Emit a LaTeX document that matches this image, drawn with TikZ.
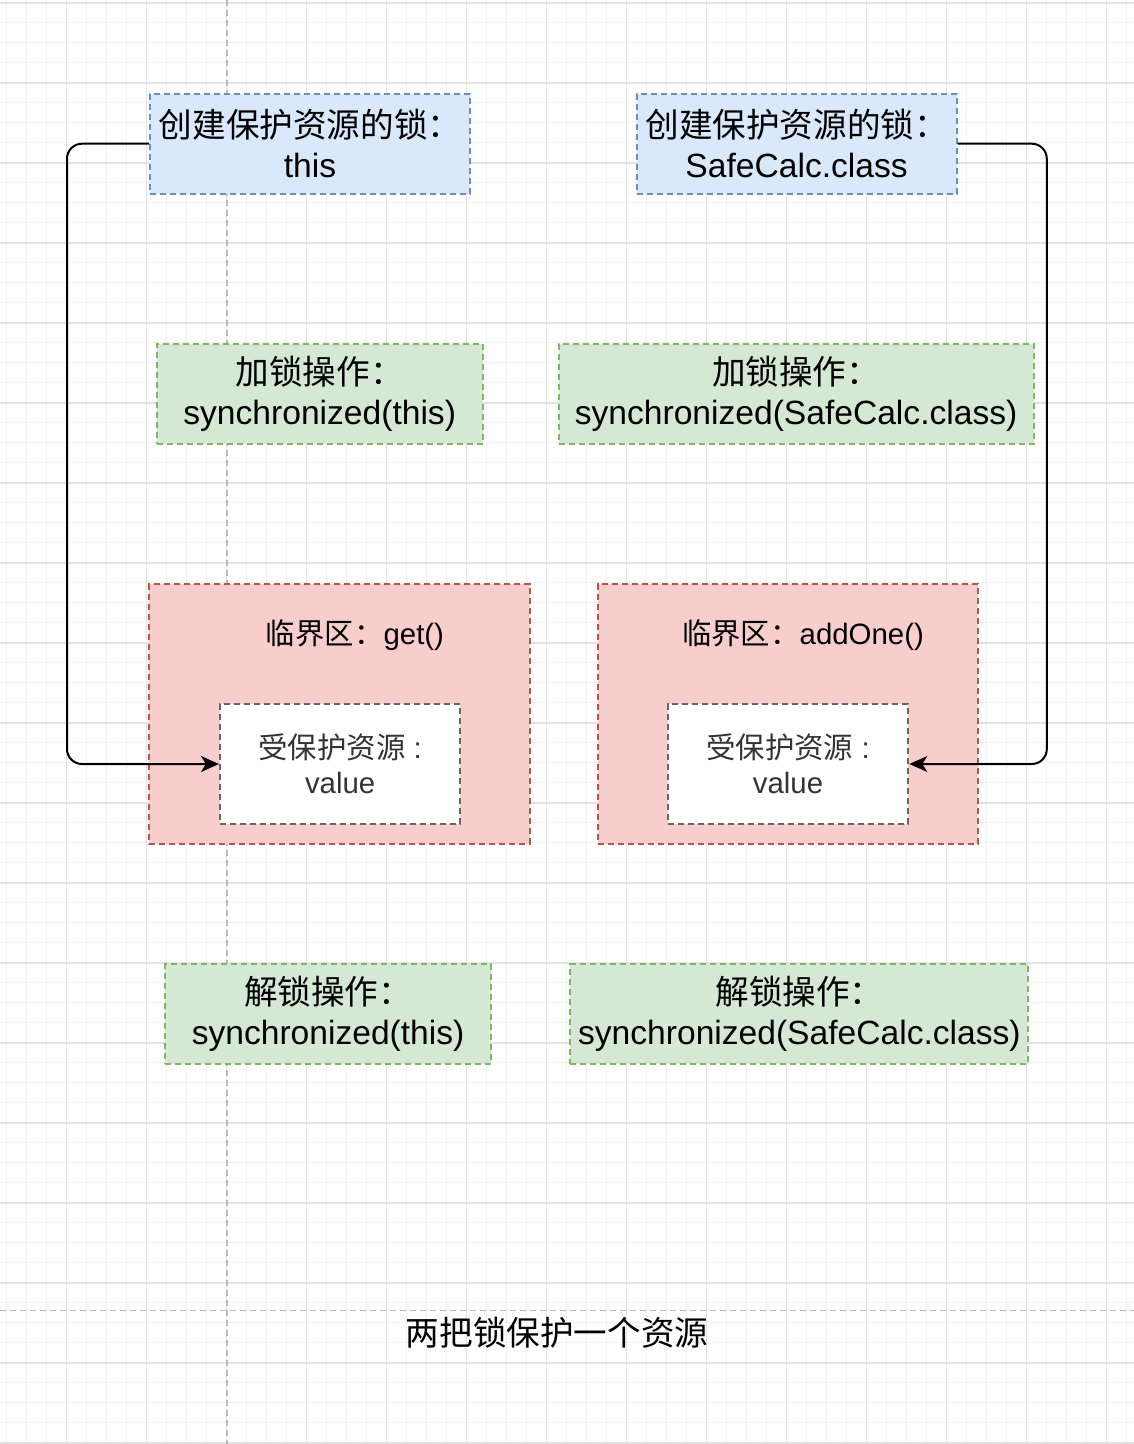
\documentclass[tikz,border=0pt]{standalone}
\usepackage{fontspec}
\setmainfont{Liberation Sans}
\newfontfamily\cjk{Noto Sans CJK SC}
\usetikzlibrary{arrows.meta}
\definecolor{bluefill}{HTML}{DAE8FC}
\definecolor{bluedraw}{HTML}{6C8EBF}
\definecolor{greenfill}{HTML}{D5E8D4}
\definecolor{greendraw}{HTML}{82B366}
\definecolor{redfill}{HTML}{F8CECC}
\definecolor{reddraw}{HTML}{B85450}
\definecolor{whitedraw}{HTML}{666666}
\definecolor{darktext}{HTML}{333333}
\definecolor{gridminor}{HTML}{F1F1F1}
\definecolor{gridmajor}{HTML}{E2E2E2}
\definecolor{guide}{HTML}{BBBBBB}
\begin{document}
\begin{tikzpicture}[x=1pt,y=-1pt,
  box/.style={draw, line width=2pt, dash pattern=on 6pt off 4pt, anchor=north west,
    inner sep=0pt, align=center, font=\fontsize{33.6}{40.3}\selectfont},
  bluebox/.style={box, fill=bluefill, draw=bluedraw},
  greenbox/.style={box, fill=greenfill, draw=greendraw},
  redbox/.style={box, fill=redfill, draw=reddraw},
  whitebox/.style={box, fill=white, draw=whitedraw, text=darktext,
    font=\fontsize{29.4}{35.3}\selectfont},
  redlabel/.style={inner sep=0pt, font=\fontsize{29.4}{35.3}\selectfont},
  conn/.style={draw, line width=2pt, rounded corners=15pt,
    -{Stealth[length=18pt,width=16pt,inset=5pt]}},
  minorline/.style={gridminor, line width=1pt},
  majorline/.style={gridmajor, line width=1.6pt},
  guideline/.style={guide, line width=1.4pt, dash pattern=on 6pt off 4pt}]
\useasboundingbox (0,0) rectangle (1134,1444);
\fill[white] (0,0) rectangle (1134,1444);
% grid
\foreach \x in {6.5,26.5,...,1134} \draw[minorline] (\x,0) -- (\x,1444);
\foreach \y in {2.7,22.7,...,1444} \draw[minorline] (0,\y) -- (1134,\y);
\foreach \x in {66.5,146.5,...,1134} \draw[majorline] (\x,0) -- (\x,1444);
\foreach \y in {2.7,82.7,...,1444} \draw[majorline] (0,\y) -- (1134,\y);
% guides
\draw[guideline] (227,0) -- (227,1444);
\draw[guideline] (0,1310.5) -- (1134,1310.5);
% top boxes
\node[bluebox, minimum width=320pt, minimum height=100pt] (b1) at (149,92.7)
  {{\cjk 创建保护资源的锁：}\\this};
\node[bluebox, minimum width=320pt, minimum height=100pt] (b2) at (635.6,92.7)
  {{\cjk 创建保护资源的锁：}\\SafeCalc.class};
% lock boxes
\node[greenbox, minimum width=326pt, minimum height=100pt] (g1) at (155.7,342.7)
  {{\cjk 加锁操作：}\\synchronized(this)};
\node[greenbox, minimum width=475pt, minimum height=100pt] (g2) at (557.6,342.7)
  {{\cjk 加锁操作：}\\synchronized(SafeCalc.class)};
% critical sections
\node[redbox, minimum width=380.7pt, minimum height=259.4pt] (r1) at (148.3,583.3) {};
\node[redbox, minimum width=380.6pt, minimum height=259.4pt] (r2) at (596.7,583.3) {};
\node[redlabel] (l1) at (355,635) {{\cjk 临界区：}get()};
\node[redlabel] (l2) at (803,635) {{\cjk 临界区：}addOne()};
\node[whitebox, minimum width=240.3pt, minimum height=119.4pt] (w1) at (219,703.3)
  {{\cjk 受保护资源} :\\value};
\node[whitebox, minimum width=240.6pt, minimum height=119.4pt] (w2) at (666.7,703.3)
  {{\cjk 受保护资源} :\\value};
% unlock boxes
\node[greenbox, minimum width=326pt, minimum height=99.4pt] (u1) at (164.1,963.3)
  {{\cjk 解锁操作：}\\synchronized(this)};
\node[greenbox, minimum width=458pt, minimum height=99.4pt] (u2) at (569.4,963.3)
  {{\cjk 解锁操作：}\\synchronized(SafeCalc.class)};
% title
\node[inner sep=0pt, font=\fontsize{33.6}{40.3}\selectfont\cjk] (t) at (557,1333) {两把锁保护一个资源};
% connectors
\coordinate (lx) at (67,0);
\coordinate (rx) at (1046.8,0);
\draw[conn] (b1.west) -| (lx |- w1.west) -- (w1.west);
\draw[conn] (b2.east) -| (rx |- w2.east) -- (w2.east);
\end{tikzpicture}
\end{document}
